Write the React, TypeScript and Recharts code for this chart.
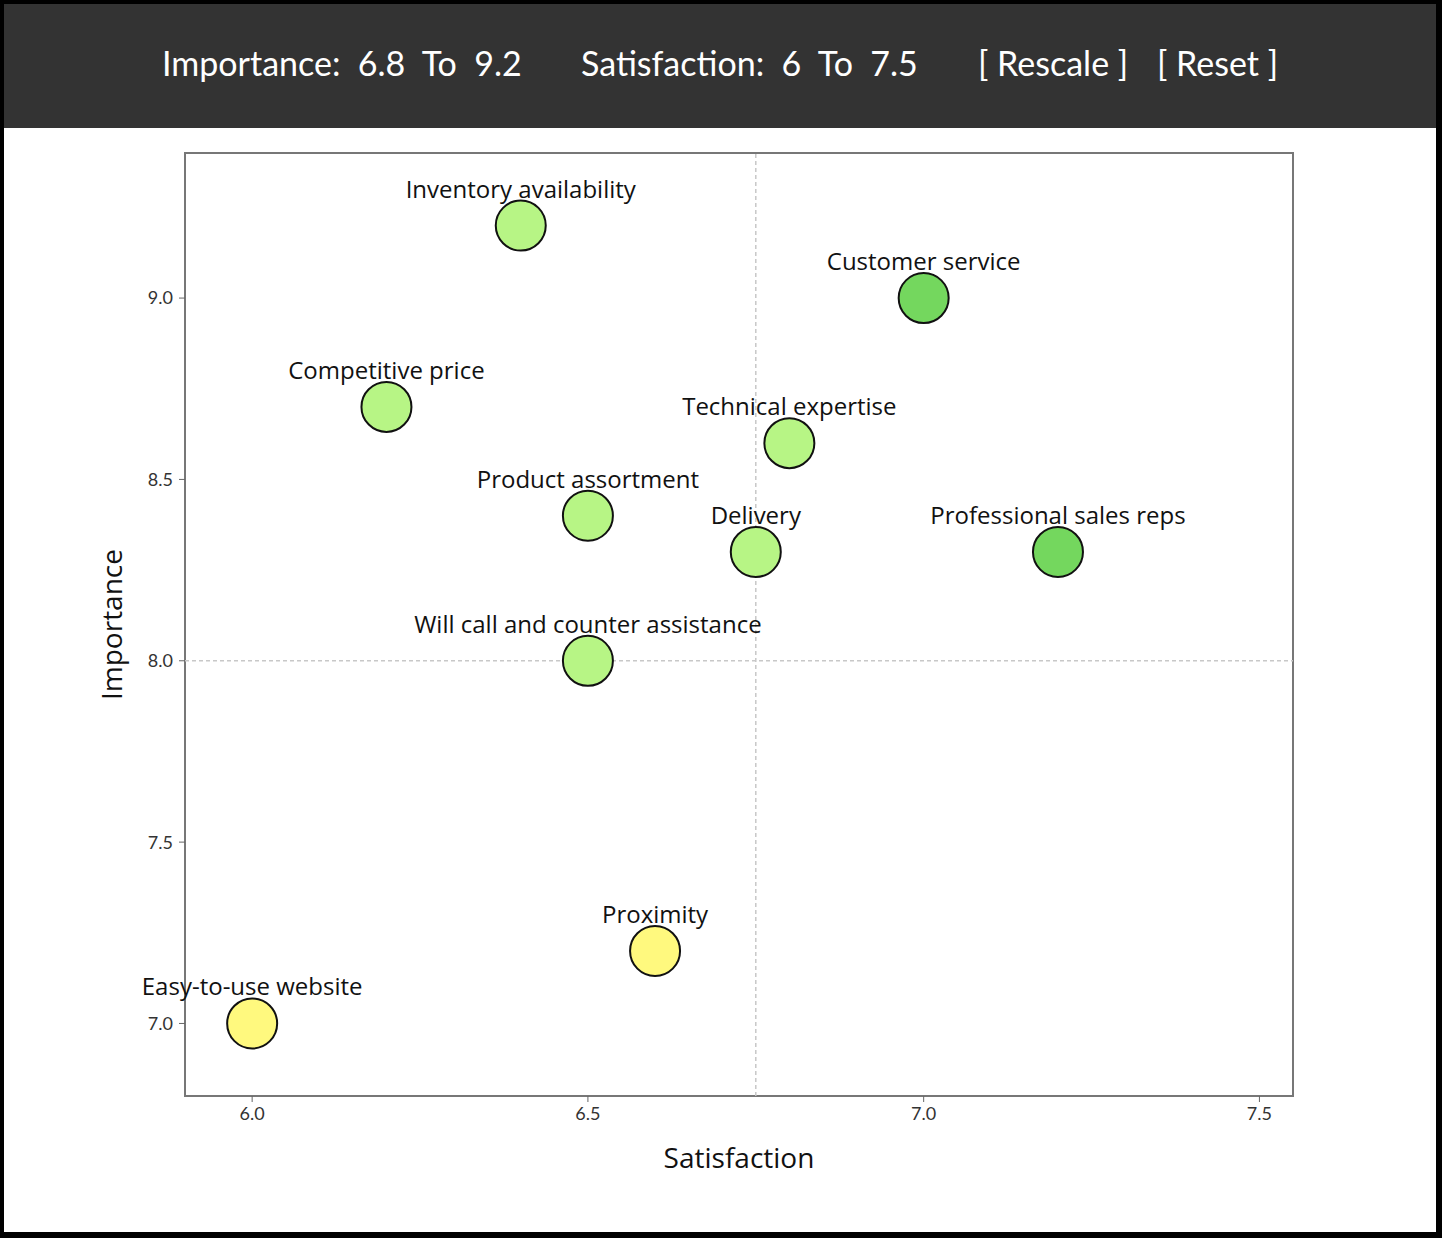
import { ScatterChart, Scatter, XAxis, YAxis, ReferenceLine, ReferenceArea, Label } from 'recharts';

const names = [
  'Inventory availability',
  'Customer service',
  'Competitive price',
  'Technical expertise',
  'Product assortment',
  'Delivery',
  'Professional sales reps',
  'Will call and counter assistance',
  'Proximity',
  'Easy-to-use website',
];
const satisfaction = [6.4, 7.0, 6.2, 6.8, 6.5, 6.75, 7.2, 6.5, 6.6, 6.0];
const importance = [9.2, 9.0, 8.7, 8.6, 8.4, 8.3, 8.3, 8.0, 7.2, 7.0];
const tier = ['mid', 'high', 'mid', 'mid', 'mid', 'mid', 'high', 'mid', 'low', 'low'];

const xTicks = [6.0, 6.5, 7.0, 7.5];
const yTicks = [7.0, 7.5, 8.0, 8.5, 9.0];

const tierColor: Record<string, string> = {
  high: '#74d75e',
  mid: '#b7f585',
  low: '#fff97e',
};

const data = names.map((name, i) => ({
  name,
  x: satisfaction[i],
  y: importance[i],
  tier: tier[i],
}));

const Bubble = (props: any) => {
  const { cx, cy, payload } = props;
  return (
    <g>
      <circle cx={cx} cy={cy} r={25} fill={tierColor[payload.tier]} stroke="#111" strokeWidth={2} />
      <text x={cx} y={cy - 28} textAnchor="middle" fontSize={24} fill="#111" fontFamily="'Open Sans', sans-serif">
        {payload.name}
      </text>
    </g>
  );
};

export default function App() {
  const hdr = { position: 'absolute' as const, top: 42, fontSize: 34, color: '#fff', fontFamily: 'Lato, sans-serif', whiteSpace: 'pre' as const };
  return (
    <div style={{ position: 'absolute', left: 0, top: 0, width: 1442, height: 1238, background: '#fff', overflow: 'hidden' }}>
      <div style={{ position: 'absolute', left: 0, top: 0, width: 1442, height: 128, background: '#333333' }}>
        <span style={{ ...hdr, left: 162 }}>Importance:  6.8  To  9.2</span>
        <span style={{ ...hdr, left: 581 }}>Satisfaction:  6  To  7.5</span>
        <span style={{ ...hdr, left: 978 }}>[ Rescale ]</span>
        <span style={{ ...hdr, left: 1157 }}>[ Reset ]</span>
      </div>
      <div style={{ position: 'absolute', left: 0, top: 0 }}>
        <ScatterChart width={1442} height={1238} margin={{ top: 153, right: 149, bottom: 82, left: 100 }}>
          <XAxis
            type="number"
            dataKey="x"
            domain={[5.9, 7.55]}
            ticks={xTicks}
            tickFormatter={(v: number) => v.toFixed(1)}
            height={60}
            axisLine={false}
            tickSize={6}
            tickMargin={5}
            tickLine={{ stroke: '#666' }}
            tick={{ fontSize: 18, fill: '#333', fontFamily: 'Lato, sans-serif' }}
          >
            <Label value="Satisfaction" position="insideBottom" offset={-12} fontSize={28} fill="#111" fontFamily="'Open Sans', sans-serif" />
          </XAxis>
          <YAxis
            type="number"
            dataKey="y"
            domain={[6.8, 9.4]}
            ticks={yTicks}
            tickFormatter={(v: number) => v.toFixed(1)}
            width={85}
            axisLine={false}
            tickSize={6}
            tickMargin={6}
            tickLine={{ stroke: '#666' }}
            tick={{ fontSize: 18, fill: '#333', fontFamily: 'Lato, sans-serif' }}
          >
            <Label value="Importance" angle={-90} position="insideLeft" offset={12} textAnchor="middle" fontSize={28} fill="#111" fontFamily="'Open Sans', sans-serif" />
          </YAxis>
          <ReferenceLine x={6.75} stroke="#c8c8c8" strokeDasharray="4 3" strokeWidth={1.5} />
          <ReferenceLine y={8.0} stroke="#c8c8c8" strokeDasharray="4 3" strokeWidth={1.5} />
          <ReferenceArea x1={5.9} x2={7.55} y1={6.8} y2={9.4} fill="none" stroke="#777" strokeWidth={2} />
          <Scatter data={data} shape={<Bubble />} isAnimationActive={false} />
        </ScatterChart>
      </div>
      <div style={{ position: 'absolute', left: 0, top: 0, width: 1442, height: 1238, boxSizing: 'border-box', border: '4px solid #000', borderRightWidth: 6, borderBottomWidth: 6, pointerEvents: 'none' }} />
    </div>
  );
}
